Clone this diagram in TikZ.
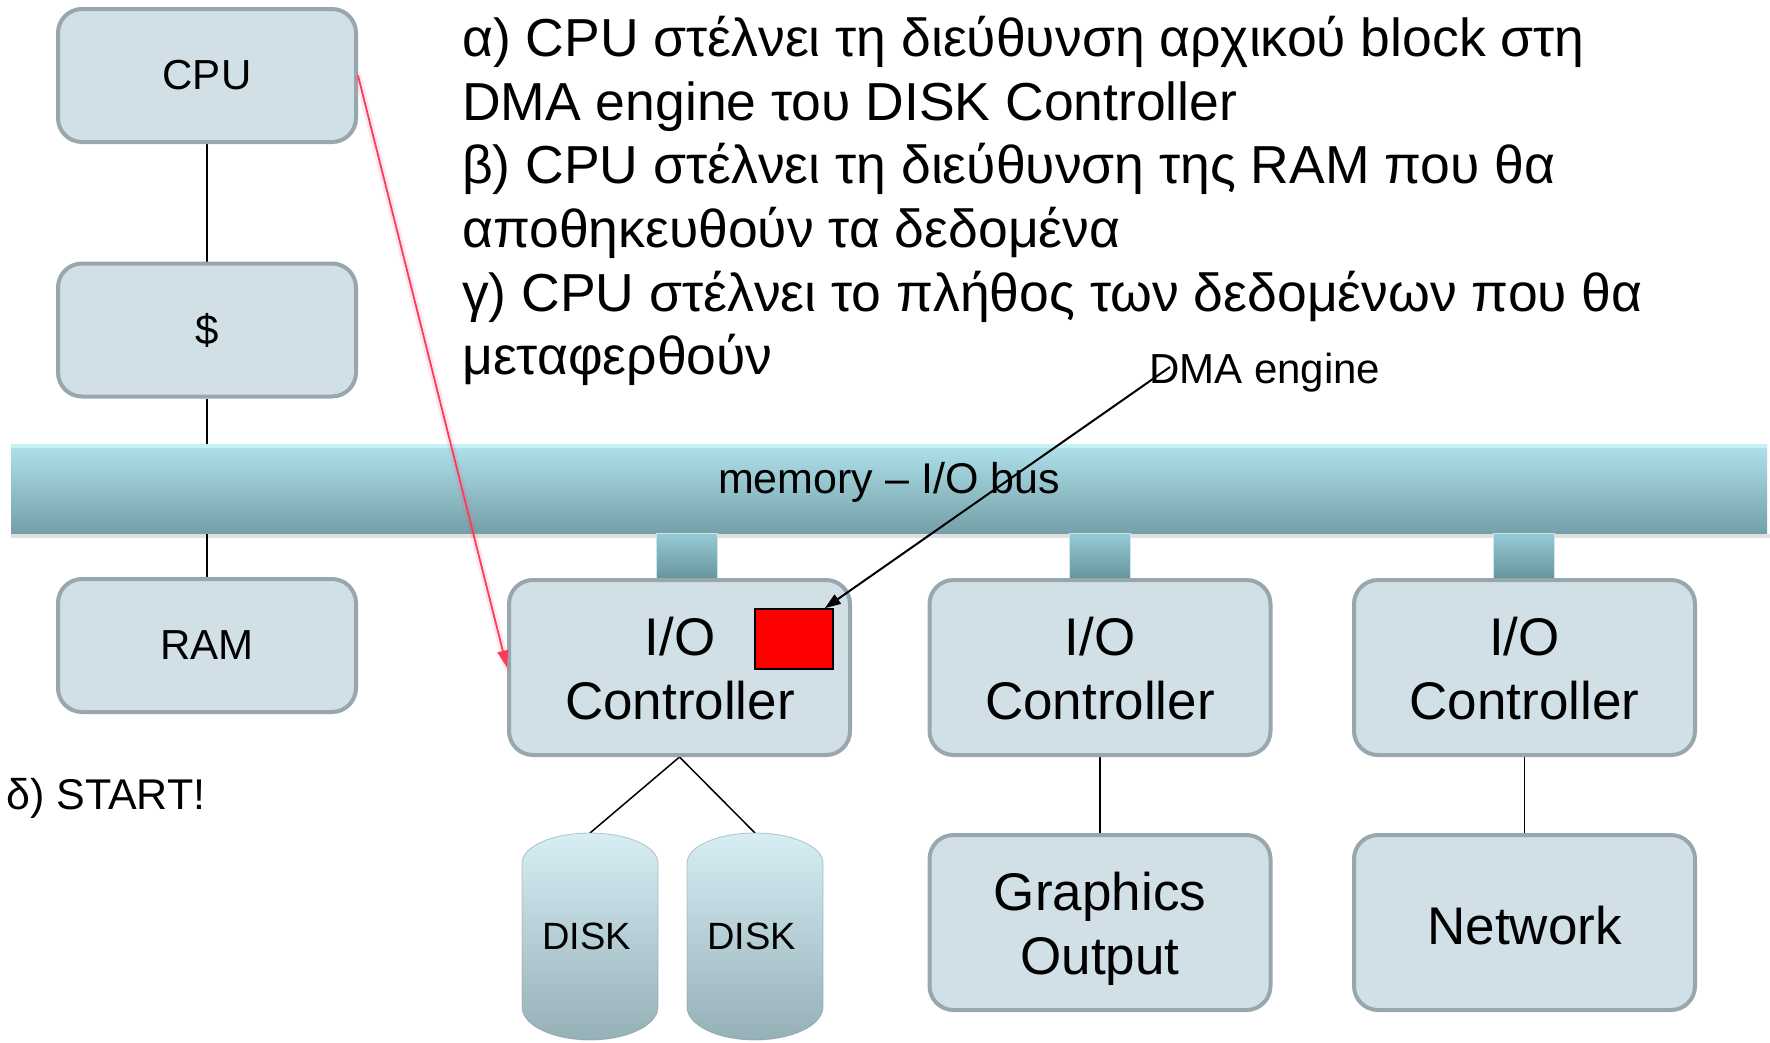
\documentclass[tikz,border=0pt]{standalone}
\usepackage{fontspec}
\setmainfont{Liberation Sans}
\usetikzlibrary{arrows.meta,backgrounds}
\definecolor{boxfill}{RGB}{208,224,230}
\definecolor{boxline}{RGB}{151,167,173}
\definecolor{bustop}{RGB}{176,226,236}
\definecolor{busmid}{RGB}{150,200,210}
\definecolor{busbot}{RGB}{116,160,168}
\definecolor{bushigh}{RGB}{200,245,248}
\definecolor{tabtop}{RGB}{150,203,214}
\definecolor{tabbot}{RGB}{104,150,158}
\definecolor{disktop}{RGB}{214,238,244}
\definecolor{diskbot}{RGB}{150,176,184}
\definecolor{diskedge}{RGB}{120,145,152}
\definecolor{redarrow}{RGB}{250,60,90}
\begin{document}
\begin{tikzpicture}[x=1pt,y=-1pt,
  blockbox/.style={draw=boxline,fill=boxfill,line width=4pt,rounded corners=24pt,inner sep=0pt},
  smallbox/.style={blockbox,minimum width=298pt,minimum height=133pt,font=\fontsize{42}{50}\selectfont},
  bigbox/.style={blockbox,minimum width=341pt,minimum height=175pt},
  bigtext/.style={inner sep=0pt,align=center,font=\fontsize{53}{64}\selectfont},
  midtext/.style={inner sep=0pt,font=\fontsize{42}{50}\selectfont},
  tabbox/.style={top color=tabtop,bottom color=tabbot,draw=tabtop!50!white,line width=1pt,minimum width=61pt,minimum height=45pt,inner sep=0pt},
  conn/.style={line width=1.5pt,black},
  dmaarrow/.style={line width=2pt,black,-{Triangle[length=16pt,width=11pt]}},
  redarr/.style={line width=1.8pt,redarrow,-{Triangle[length=17pt,width=11pt]}}
]
\useasboundingbox (0,0) rectangle (1770,1042);

% left column
\node[smallbox] (cpu) at (207,75.5) {CPU};
\node[smallbox] (cache) at (207,330) {\$};
\node[smallbox] (ram) at (207,645.5) {RAM};

% bus
\node[top color=bustop,bottom color=busbot,minimum width=1756pt,minimum height=89pt,inner sep=0pt] (bus) at (889,488.5) {};
\fill[bushigh,opacity=.8] (bus.north west) rectangle ([yshift=-4pt]bus.north east);
\fill[black,opacity=.12] ([yshift=-1pt]bus.south west) rectangle ([yshift=-5pt,xshift=3pt]bus.south east);
\node[midtext,anchor=base,font=\fontsize{43}{50}\selectfont] (buslbl) at (889,493) {memory – I/O bus};

% tabs
\node[tabbox] (tab1) at (687,555.5) {};
\node[tabbox] (tab2) at (1099.5,555.5) {};
\node[tabbox] (tab3) at (1524,555.5) {};

% controllers and devices
\node[bigbox] (io1) at (679.5,667.5) {};
\node[bigbox] (io2) at (1100,667.5) {};
\node[bigbox] (io3) at (1524.5,667.5) {};
\node[bigbox] (gfx) at (1100,922.5) {};
\node[bigbox] (net) at (1524.5,922.5) {};
\node[bigtext] (io1t) at (680,675) {\strut I/O\\\strut Controller};
\node[bigtext] (io2t) at (1100,675) {\strut I/O\\\strut Controller};
\node[bigtext] (io3t) at (1524.5,675) {\strut I/O\\\strut Controller};
\node[bigtext] (gfxt) at (1100,930) {\strut Graphics\\\strut Output};
\node[bigtext,anchor=base] (nett) at (1524.5,944) {Network};

% DMA engine register
\node[draw=black,fill=red,line width=1.5pt,minimum width=78pt,minimum height=60pt,inner sep=0pt] (dma) at (794,639) {};

% disks
\shade[top color=disktop,bottom color=diskbot,draw=diskedge,draw opacity=.5,line width=.8pt]
  (522,863) arc[start angle=180,end angle=0,x radius=68pt,y radius=30pt]
  -- (658,1007) arc[start angle=0,end angle=-180,x radius=68pt,y radius=33pt] -- cycle;
\shade[top color=disktop,bottom color=diskbot,draw=diskedge,draw opacity=.5,line width=.8pt]
  (687,863) arc[start angle=180,end angle=0,x radius=68pt,y radius=30pt]
  -- (823,1007) arc[start angle=0,end angle=-180,x radius=68pt,y radius=33pt] -- cycle;
\coordinate (disk1top) at (590,833);
\coordinate (disk2top) at (755,833);
\node[midtext,anchor=base,font=\fontsize{38}{44}\selectfont] (disk1) at (586.5,949) {DISK};
\node[midtext,anchor=base,font=\fontsize{38}{44}\selectfont] (disk2) at (751.5,949) {DISK};

% texts
\node[anchor=north west,inner sep=0pt,align=left,font=\fontsize{53.5}{63.6}\selectfont] (steps) at (462,12)
 {\strut α) CPU στέλνει τη διεύθυνση αρχικού block στη\\
  \strut DMA engine του DISK Controller\\
  \strut β) CPU στέλνει τη διεύθυνση της RAM που θα\\
  \strut αποθηκευθούν τα δεδομένα\\
  \strut γ) CPU στέλνει το πλήθος των δεδομένων που θα\\
  \strut μεταφερθούν};
\node[midtext,anchor=base west] (dmalbl) at (1149,383) {DMA engine};
\node[midtext,anchor=base west,font=\fontsize{43}{50}\selectfont] (start) at (6,809) {δ) START!};

% connectors behind
\begin{scope}[on background layer]
\fill[white] (0,0) rectangle (1770,1042);
\draw[conn] (cpu.south) -- (cache.north);
\draw[conn] (cache.south) -- (ram.north);
\draw[conn] (io1.south) -- (disk1top);
\draw[conn] (io1.south) -- (disk2top);
\draw[conn] (io2.south) -- (gfx.north);
\draw[conn] (io3.south) -- (net.north);
\end{scope}

% arrows on top
\draw[redarrow,opacity=.12,line width=7pt,line cap=round] (cpu.east) -- (io1.west);
\draw[redarr] (cpu.east) -- (io1.west);
\coordinate (dmafrom) at (1170,367);
\draw[dmaarrow] (dmafrom) -- ([xshift=-9pt]dma.north east);
\end{tikzpicture}
\end{document}
